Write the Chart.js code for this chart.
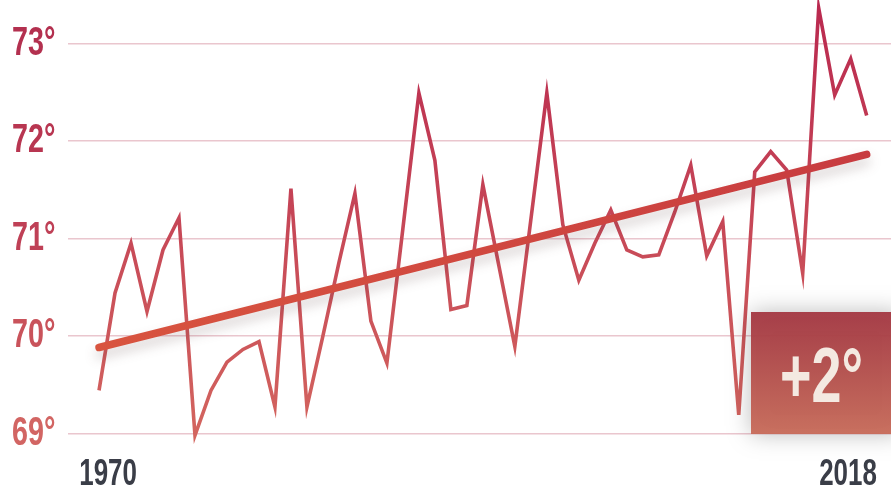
<!DOCTYPE html>
<html>
<head>
<meta charset="utf-8">
<style>
  html, body { margin: 0; padding: 0; background: #ffffff; }
  #wrap { width: 891px; height: 490px; position: relative; }
</style>
<script src="https://cdn.jsdelivr.net/npm/chart.js@4.4.1/dist/chart.umd.min.js"></script>
</head>
<body>
<div id="wrap"><canvas id="chart" width="891" height="490"></canvas></div>
<script>
// Annual average temperature, °F
const years = [
  1970, 1971, 1972, 1973, 1974, 1975, 1976, 1977, 1978, 1979,
  1980, 1981, 1982, 1983, 1984, 1985, 1986, 1987, 1988, 1989,
  1990, 1991, 1992, 1993, 1994, 1995, 1996, 1997, 1998, 1999,
  2000, 2001, 2002, 2003, 2004, 2005, 2006, 2007, 2008, 2009,
  2010, 2011, 2012, 2013, 2014, 2015, 2016, 2017, 2018
];
const temps = [
  69.44, 70.44, 70.95, 70.25, 70.88, 71.21, 68.98, 69.44, 69.73, 69.86,
  69.94, 69.27, 71.51, 69.27, 70.00, 70.75, 71.46, 70.15, 69.72, 71.10,
  72.49, 71.80, 70.27, 70.31, 71.55, 70.72, 69.89, 71.19, 72.49, 71.14,
  70.57, 70.95, 71.29, 70.88, 70.81, 70.83, 71.27, 71.75, 70.82, 71.17,
  69.19, 71.68, 71.89, 71.70, 70.64, 73.36, 72.47, 72.84, 72.26
];

// Trend line end points
const trendYears = [1970, 2018];
const trendTemps = [69.88, 71.86];

// Axis labels
const yearLabels = [1970, 2018];
const tempTickColors = { 69: '#d26563', 70: '#c9535b', 71: '#bf4056', 72: '#b83651', 73: '#b3304f' };

const FONT = "'Liberation Sans', Arial, sans-serif";
const NARROW = 0.7; // horizontal squeeze for the condensed display lettering

const changeLabel = '+' + Math.round(trendTemps[1] - trendTemps[0]) + '°';

// Draw a scale's tick labels horizontally condensed around each label anchor
function drawCondensedLabels(scale) {
  const c = scale.ctx;
  const items = scale.getLabelItems(scale.chart.chartArea);
  for (const item of items) {
    const o = item.options;
    c.save();
    c.translate(o.translation[0], o.translation[1]);
    c.scale(NARROW, 1);
    c.font = item.font.string;
    c.fillStyle = o.color;
    c.textAlign = o.textAlign;
    c.textBaseline = o.textBaseline;
    const lines = Array.isArray(item.label) ? item.label : [item.label];
    lines.forEach((ln, i) => c.fillText(ln, 0, item.textOffset + i * item.font.lineHeight));
    c.restore();
  }
}

const decor = {
  id: 'decor',
  beforeDatasetDraw(chart, args) {
    if (args.index === 1) {
      const c = chart.ctx;
      c.save();
      c.shadowColor = 'rgba(70, 40, 40, 0.22)';
      c.shadowBlur = 12;
      c.shadowOffsetY = 7;
    }
  },
  afterDatasetDraw(chart, args) {
    if (args.index === 1) chart.ctx.restore();
  },
  afterDraw(chart) {
    const c = chart.ctx;
    const area = chart.chartArea;
    const yS = chart.scales.y;
    const bx = area.right - 140;
    const by2 = yS.getPixelForValue(69) + 0.7;
    const by = by2 - 122;
    c.save();
    c.shadowColor = 'rgba(0, 0, 0, 0.28)';
    c.shadowBlur = 22;
    const g = c.createLinearGradient(0, by, 0, by2);
    g.addColorStop(0, '#a43742');
    g.addColorStop(1, '#c86b59');
    c.globalAlpha = 0.95;
    c.fillStyle = g;
    c.fillRect(bx, by, 150, by2 - by);
    c.restore();

    c.save();
    c.translate(bx + 70.5, by2 - 32);
    c.scale(NARROW, 1);
    c.font = 'bold 77px ' + FONT;
    c.textAlign = 'center';
    c.textBaseline = 'alphabetic';
    c.fillStyle = '#f4e9e1';
    c.fillText(changeLabel, 0, 0);
    c.restore();
  }
};

const ctx = document.getElementById('chart').getContext('2d');

new Chart(ctx, {
  type: 'line',
  data: {
    datasets: [
      {
        label: 'Temperature',
        data: years.map((y, i) => ({ x: y, y: temps[i] })),
        borderWidth: 3.6,
        borderColor: (c) => {
          const { chart } = c;
          const area = chart.chartArea;
          if (!area) return '#c4404f';
          const g = chart.ctx.createLinearGradient(0, area.top, 0, area.bottom);
          g.addColorStop(0, '#b9284f');
          g.addColorStop(1, '#d4675f');
          return g;
        },
        pointRadius: 0,
        tension: 0,
        borderJoinStyle: 'miter',
        order: 1
      },
      {
        label: 'Trend',
        data: trendYears.map((y, i) => ({ x: y, y: trendTemps[i] })),
        borderWidth: 7.5,
        borderCapStyle: 'round',
        borderColor: (c) => {
          const { chart } = c;
          const area = chart.chartArea;
          if (!area) return '#d04a40';
          const g = chart.ctx.createLinearGradient(area.left, 0, area.right, 0);
          g.addColorStop(0, '#d9553f');
          g.addColorStop(1, '#c73b40');
          return g;
        },
        pointRadius: 0,
        tension: 0,
        order: 0
      }
    ]
  },
  options: {
    responsive: false,
    animation: false,
    devicePixelRatio: 1,
    layout: { padding: { left: 12, right: 0, top: 0, bottom: 0 } },
    plugins: { legend: { display: false }, tooltip: { enabled: false } },
    scales: {
      x: {
        type: 'linear',
        min: 1968.06,
        max: 2019.52,
        display: false
      },
      xYears: {
        type: 'linear',
        position: 'bottom',
        min: 1967.4,
        max: 2020.79,
        grid: { display: false },
        border: { display: false },
        afterBuildTicks: (s) => { s.ticks = yearLabels.map(v => ({ value: v })); },
        afterFit: (s) => {
          s.height = 37.2; s.paddingLeft = 0; s.paddingRight = 0;
          s.drawLabels = function () { drawCondensedLabels(this); };
        },
        ticks: {
          autoSkip: false,
          maxRotation: 0,
          padding: -8,
          color: '#3a3d47',
          font: { family: FONT, weight: 'bold', size: 37 },
          callback: (v) => String(v)
        }
      },
      y: {
        min: 68.8,
        max: 73.444,
        border: { display: false },
        grid: { color: '#eac6ce', lineWidth: 1.5, drawTicks: false },
        afterFit: (s) => {
          s.width = 56; s.paddingTop = 0; s.paddingBottom = 0;
          s.drawLabels = function () { drawCondensedLabels(this); };
        },
        ticks: {
          stepSize: 1,
          includeBounds: false,
          crossAlign: 'far',
          padding: 0,
          color: (c) => tempTickColors[c.tick.value] || '#c04050',
          font: { family: FONT, weight: 'bold', size: 41 },
          callback: (v) => v + '°'
        }
      }
    }
  },
  plugins: [decor]
});
</script>
</body>
</html>
